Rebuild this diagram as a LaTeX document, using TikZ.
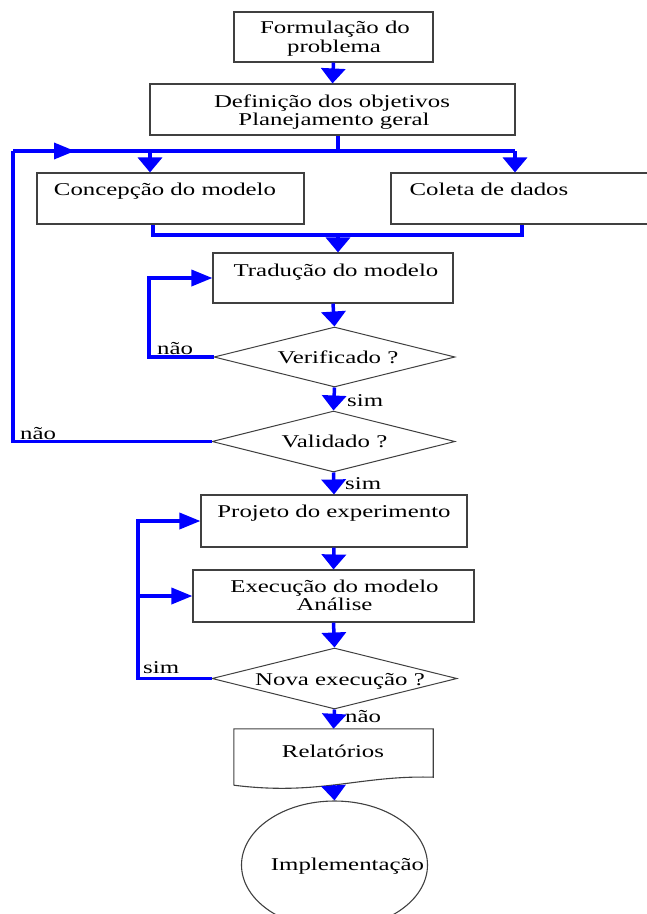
\documentclass[tikz,border=0pt]{standalone}
\usepackage{fontspec}
\setmainfont{Liberation Serif}[FakeStretch=1.38]
\usetikzlibrary{arrows.meta,shapes.geometric,calc}
\begin{document}
\begin{tikzpicture}[x=1pt,y=-1pt,
  box/.style={draw=black!75, line width=1.1pt, rectangle, inner sep=0pt},
  diam/.style={diamond, draw=black!75, line width=1pt, inner sep=0pt},
  flow/.style={draw=blue, line width=3.5pt},
  darr/.style={flow, -{Triangle[length=15pt,width=24pt]}},
  harr/.style={flow, -{Triangle[length=21pt,width=16pt]}},
  txt/.style={anchor=base, inner sep=0pt, font=\fontsize{18}{20}\selectfont},
]
\useasboundingbox (0,0) rectangle (646,914);

% shapes
\node[box, minimum width=199pt, minimum height=50pt] (b1) at (333.5,37) {};
\node[box, minimum width=365pt, minimum height=51pt] (b2) at (332.5,109.5) {};
\node[box, minimum width=267pt, minimum height=51pt] (b3) at (170.5,198.5) {};
\node[box, minimum width=300pt, minimum height=51pt] (b4) at (541,198.5) {};
\node[box, minimum width=240pt, minimum height=50pt] (b5) at (333,278) {};
\node[diam, minimum width=241pt, minimum height=60pt] (d1) at (334.5,357) {};
\node[diam, minimum width=243pt, minimum height=61pt] (d2) at (333.5,441.5) {};
\node[box, minimum width=266pt, minimum height=52pt] (b6) at (334,521) {};
\node[box, minimum width=281pt, minimum height=52pt] (b7) at (333.5,596) {};
\node[diam, minimum width=245pt, minimum height=61pt] (d3) at (334.5,678.5) {};
\node[minimum width=199pt, minimum height=56pt, inner sep=0pt] (rel) at (333.5,757) {};
\draw[draw=black!75, line width=1.1pt] (rel.south west) -- (rel.north west) -- (rel.north east)
  -- ([yshift=8pt]rel.south east) .. controls (360,775) and (320,796) .. (rel.south west);
\node[ellipse, draw=black!75, line width=1.1pt, minimum width=186pt, minimum height=128pt, inner sep=0pt] (impl) at (334.5,865) {};

% helper coordinates
\coordinate (jn) at (338,151);
\coordinate (tl) at (13,151);
\coordinate (ta) at (75,151);
\coordinate (tr) at (515,151);
\coordinate (tb3) at (150,151);
\coordinate (cb3) at (153,235);
\coordinate (cb4) at (522,235);
\coordinate (jb) at (338,235);
\coordinate (l1) at (149,0);
\coordinate (l3) at (138,0);

% connectors
\draw[darr] (b1.south) -- (b2.north);
\draw[flow] (b2.south -| jn) -- (jn);
\draw[flow] (tl) -- (tr);
\draw[harr] (tl) -- (ta);
\draw[darr] (tb3) -- (tb3 |- b3.north);
\draw[darr] (tr) -- (tr |- b4.north);
\draw[flow] (cb3 |- b3.south) -- (cb3) -- (cb4) -- (cb4 |- b4.south);
\draw[darr] (jb) -- (jb |- b5.north);
\draw[darr] (b5.south) -- (d1.north);
\draw[harr] (d1.west) -- (d1.west -| l1) -- (l1 |- b5.west) -- (b5.west);
\draw[darr] (d1.south) -- (d2.north);
\draw[flow] (d2.west) -- (d2.west -| tl) -- (tl);
\draw[darr] (d2.south) -- (b6.north);
\draw[darr] (b6.south) -- (b7.north);
\draw[darr] (b7.south) -- (d3.north);
\draw[harr] (d3.west) -- (d3.west -| l3) -- (l3 |- b6.west) -- (b6.west);
\draw[harr] (l3 |- b7.west) -- (b7.west);
\draw[darr] (d3.south) -- (rel.north);
\draw[darr] (rel.south) -- (impl.north);

% texts
\node[txt] (t1a) at (335,33) {Formulação do};
\node[txt] (t1b) at (334,52) {problema};
\node[txt] (t2a) at (332,107) {Definição dos objetivos};
\node[txt] (t2b) at (334,125) {Planejamento geral};
\node[txt] (t3) at (165,195) {Concepção do modelo};
\node[txt] (t4) at (489,195) {Coleta de dados};
\node[txt] (t5) at (336,276) {Tradução do modelo};
\node[txt] (t6) at (338,363) {Verificado ?};
\node[txt] (t7) at (334.5,447) {Validado ?};
\node[txt] (t8) at (334,517) {Projeto do experimento};
\node[txt] (t9a) at (334.5,592) {Execução do modelo};
\node[txt] (t9b) at (334.5,610) {Análise};
\node[txt] (t10) at (340,685) {Nova execução ?};
\node[txt] (t11) at (333,757) {Relatórios};
\node[txt] (t12) at (347.5,870) {Implementação};

% branch labels
\node[txt, anchor=base west] (nao1) at (157,354) {não};
\node[txt, anchor=base west] (nao2) at (20,439) {não};
\node[txt, anchor=base west] (sim1) at (347,406) {sim};
\node[txt, anchor=base west] (sim2) at (345,489) {sim};
\node[txt, anchor=base west] (sim3) at (143,673) {sim};
\node[txt, anchor=base west] (nao3) at (345,722) {não};
\end{tikzpicture}
\end{document}
